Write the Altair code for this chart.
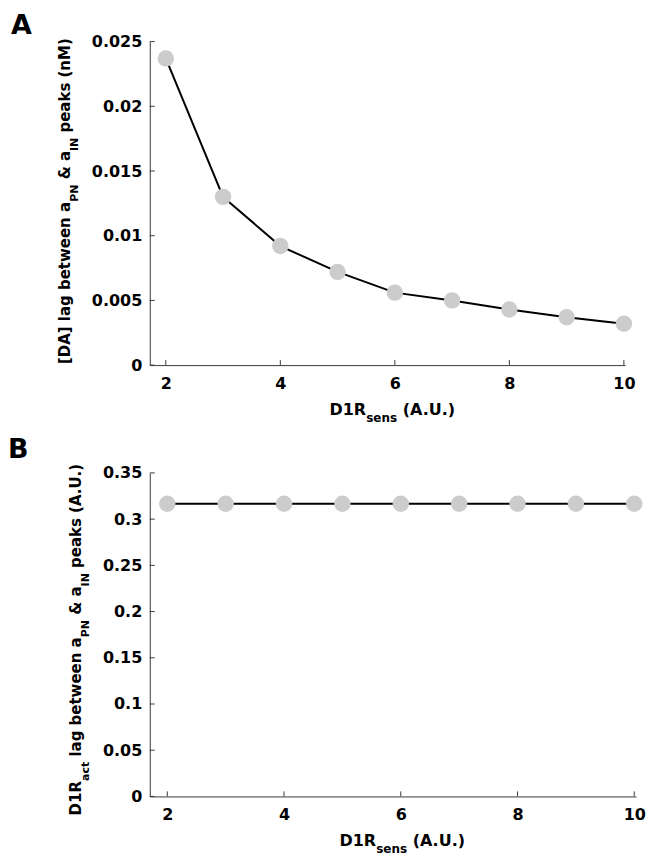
import altair as alt
import pandas as pd

# ---- data ----
d1r_sens = [2, 3, 4, 5, 6, 7, 8, 9, 10]
da_lag = [0.0237, 0.0130, 0.0092, 0.0072, 0.0056, 0.0050, 0.0043, 0.0037, 0.0032]
act_lag = [0.3166, 0.3166, 0.3166, 0.3166, 0.3166, 0.3166, 0.3166, 0.3166, 0.3166]

x_ticks = [2, 4, 6, 8, 10]
ya_ticks = [0, 0.005, 0.01, 0.015, 0.02, 0.025]
yb_ticks = [0, 0.05, 0.1, 0.15, 0.2, 0.25, 0.3, 0.35]

FONT = "DejaVu Sans"
AX = "#3a3a3a"
DOT = "#cccccc"
H = 324
WA, WB = 476, 487

# approximate advance widths (em) of DejaVu Sans Bold, used to chain text pieces
W = {" ": 0.348, "a": 0.675, "b": 0.716, "c": 0.593, "e": 0.678,
     "g": 0.716, "k": 0.664, "l": 0.343, "n": 0.712, "p": 0.716, "s": 0.595,
     "t": 0.478, "w": 0.927, "A": 0.774, "D": 0.832, "I": 0.371, "M": 0.994,
     "N": 0.835, "P": 0.735, "R": 0.770, "U": 0.815, "[": 0.457, "]": 0.457,
     "(": 0.457, ")": 0.457, "&": 0.867, ".": 0.381, "1": 0.696, "m": 1.042}


def tw(s, size):
    return sum(W.get(c, 0.65) for c in s) * size


def one(text, x, y, size, angle=0, weight="bold"):
    kw = dict(text=text, font=FONT, fontSize=size, fontWeight=weight,
              align="left", baseline="alphabetic", color="black")
    if angle:
        kw["angle"] = angle
    return alt.Chart(alt.Data(values=[{"k": 0}])).mark_text(**kw).encode(
        x=alt.value(x), y=alt.value(y))


def rich(parts, x0, y0, size, sub_size, sub_off, vertical=False):
    layers = []
    pos = 0.0
    for s, is_sub in parts:
        fs = sub_size if is_sub else size
        off = sub_off if is_sub else 0
        lead = len(s) - len(s.lstrip(" "))
        pos += tw(" " * lead, fs)
        core = s.strip(" ")
        if vertical:
            layers.append(one(core, x0 + off, y0 - pos, fs, angle=270))
        else:
            layers.append(one(core, x0 + pos, y0 + off, fs))
        pos += tw(s.lstrip(" "), fs)
    return layers


def panel(yvals, ydom, yticks, width, xdom, ytitle_parts, ytitle_x, ytitle_y,
          xtitle_x, letter, letter_x, letter_y):
    df = pd.DataFrame({"x": d1r_sens, "y": yvals})
    xs = alt.Scale(domain=xdom, nice=False, zero=False)
    ys = alt.Scale(domain=ydom, nice=False, zero=False)
    base = alt.Chart(df)
    xaxis = alt.Axis(values=x_ticks, format="d", title=None, grid=False,
                     ticks=False, tickSize=0, labelPadding=10,
                     labelFont=FONT, labelFontSize=16, labelFontWeight="bold",
                     labelColor="black", domainColor=AX, domainWidth=1)
    yaxis = alt.Axis(values=yticks, format="~g", title=None, grid=False,
                     ticks=False, tickSize=0, labelPadding=8,
                     labelFont=FONT, labelFontSize=16, labelFontWeight="bold",
                     labelColor="black", domainColor=AX, domainWidth=1)
    X = alt.X("x:Q", scale=xs, axis=xaxis)
    Y = alt.Y("y:Q", scale=ys, axis=yaxis)
    line = base.mark_line(color="black", strokeWidth=2).encode(x=X, y=Y)
    pts = base.mark_circle(size=270, color=DOT, opacity=1).encode(x=X, y=Y)
    xt = alt.Chart(pd.DataFrame({"x": x_ticks})).mark_rule(
        color=AX, strokeWidth=1).encode(
        x=X, y=alt.value(H), y2=alt.value(H - 5))
    yt = alt.Chart(pd.DataFrame({"y": yticks})).mark_rule(
        color=AX, strokeWidth=1).encode(
        y=Y, x=alt.value(0), x2=alt.value(5))
    texts = []
    texts += rich(ytitle_parts, ytitle_x, ytitle_y, 15, 11, 8, vertical=True)
    texts += rich([("D1R", False), ("sens", True), (" (A.U.)", False)],
                  xtitle_x, H + 50, 16, 12, 7)
    texts.append(one(letter, letter_x, letter_y, 27))
    return alt.layer(xt, yt, line, pts, *texts).properties(width=width, height=H)


pa = panel(da_lag, [0, 0.025], ya_ticks, WA, [1.72, 10.02],
           [("[DA] lag between a", False), ("PN", True), (" & a", False),
            ("IN", True), (" peaks (nM)", False)],
           -80, 323, 180, "A", -139, -8)

pb = panel(act_lag, [0, 0.35], yb_ticks, WB, [1.7, 10.03],
           [("D1R", False), ("act", True), (" lag between a", False),
            ("PN", True), (" & a", False), ("IN", True),
            (" peaks (A.U.)", False)],
           -69, 343, 190, "B", -142, -15)

chart = alt.vconcat(pa, pb, spacing=108, bounds="flush").properties(
    padding={"left": 0, "top": 3, "right": 0, "bottom": 0}
).configure_view(strokeWidth=0, stroke="transparent")

chart.save("out.html", embed_options={"renderer": "svg", "actions": False})
